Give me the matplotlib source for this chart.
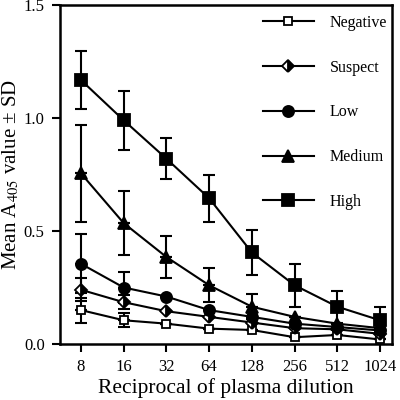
import numpy as np
import matplotlib.pyplot as plt

plt.rcParams['font.family'] = ['Liberation Serif', 'DejaVu Serif']
plt.rcParams['mathtext.fontset'] = 'stix'

dilutions = ['8', '16', '32', '64', '128', '256', '512', '1024']

neg = [0.15, 0.105, 0.09, 0.068, 0.062, 0.03, 0.04, 0.02]
neg_sd = [0.055, 0.03, 0.0, 0.0, 0.0, 0.0, 0.0, 0.0]
sus = [0.24, 0.185, 0.145, 0.12, 0.095, 0.07, 0.065, 0.045]
sus_sd = [0.05, 0.03, 0.0, 0.0, 0.0, 0.0, 0.0, 0.0]
low = [0.355, 0.25, 0.21, 0.15, 0.12, 0.09, 0.075, 0.06]
low_sd = [0.13, 0.07, 0.0, 0.0, 0.0, 0.0, 0.0, 0.0]
med = [0.755, 0.535, 0.385, 0.26, 0.165, 0.12, 0.09, 0.07]
med_sd = [0.215, 0.14, 0.095, 0.075, 0.055, 0.0, 0.0, 0.0]
high = [1.168, 0.99, 0.82, 0.645, 0.405, 0.26, 0.165, 0.105]
high_sd = [0.13, 0.13, 0.09, 0.105, 0.1, 0.095, 0.07, 0.06]

x = np.arange(len(dilutions))

fig = plt.figure(figsize=[4, 4], dpi=100)
ax = fig.add_axes([0.15, 0.14, 0.83, 0.8475])

series = [
    (neg, neg_sd, 'Negative', dict(marker='s', markersize=6, markerfacecolor='white')),
    (sus, sus_sd, 'Suspect', dict(marker='D', markersize=6, fillstyle='right', markerfacecoloralt='white')),
    (low, low_sd, 'Low', dict(marker='o', markersize=8)),
    (med, med_sd, 'Medium', dict(marker='^', markersize=8.5)),
    (high, high_sd, 'High', dict(marker='s', markersize=9)),
]

for vals, sd, lab, style in series:
    err = np.array(sd)
    ax.errorbar(x, vals, yerr=[np.zeros_like(err), err], fmt='none', ecolor='black',
                elinewidth=1.5, capsize=4, capthick=1.5, zorder=2)
    ax.errorbar(x, vals, yerr=[err, np.zeros_like(err)], fmt='none', ecolor='black',
                elinewidth=1.5, capsize=4, capthick=1.5, zorder=2)
    ax.plot(x, vals, color='black', lw=1.5, markeredgecolor='black', markeredgewidth=1.3,
            markerfacecolor=style.pop('markerfacecolor', 'black'), label=lab, zorder=3, **style)

ax.set_xlim(-0.49, 7.28)
ax.set_ylim(0, 1.5)
ax.set_xticks(x)
ax.set_xticklabels(dilutions)
ax.set_yticks([0, 0.5, 1.0, 1.5])
ax.set_yticklabels(['0.0', '0.5', '1.0', '1.5'])
ax.tick_params(direction='out', length=6, width=1.5, labelsize=12, pad=5)
for sp in ax.spines.values():
    sp.set_linewidth(1.8)

ax.set_xlabel('Reciprocal of plasma dilution', fontsize=15.5, labelpad=2)
ax.set_ylabel('Mean A$_{405}$ value ± SD', fontsize=15, labelpad=2)

ax.legend(loc='upper right', frameon=False, fontsize=11.5, handlelength=3.2,
          labelspacing=1.8, borderaxespad=0.0, borderpad=0.3, handletextpad=1.0,
          bbox_to_anchor=(1.0, 0.985))

fig.savefig('out.png', dpi=100)
